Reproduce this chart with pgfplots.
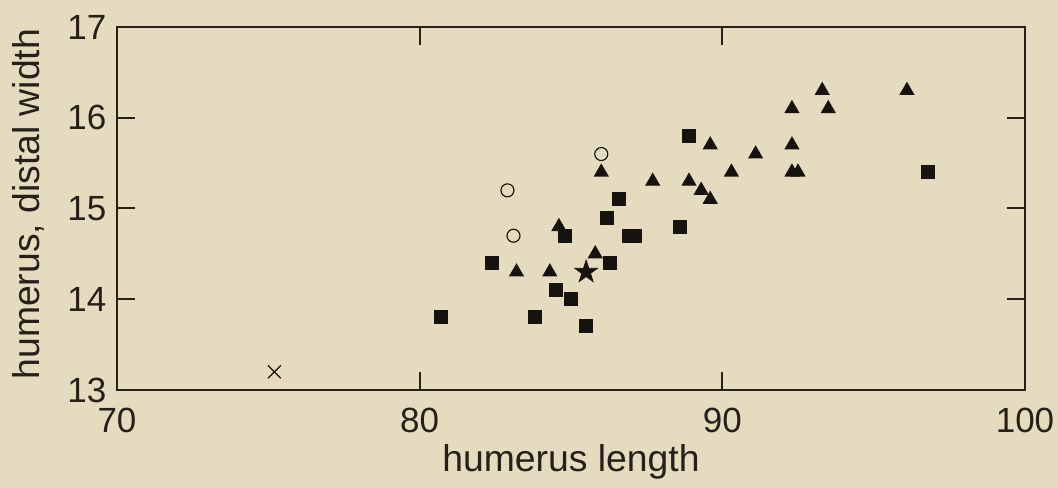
\documentclass[border=0pt]{standalone}
\usepackage{fontspec}
\setmainfont{Liberation Sans}
\usepackage{pgfplots}
\pgfplotsset{compat=1.18}
\definecolor{bgcol}{RGB}{229,220,192}
\definecolor{axcol}{RGB}{38,32,24}
\definecolor{mkcol}{RGB}{22,18,14}
\pgfdeclareplotmark{fstar}{%
  \pgfpathmoveto{\pgfpointpolar{90}{\pgfplotmarksize}}%
  \pgfpathlineto{\pgfpointpolar{126}{0.382\pgfplotmarksize}}%
  \pgfpathlineto{\pgfpointpolar{162}{\pgfplotmarksize}}%
  \pgfpathlineto{\pgfpointpolar{198}{0.382\pgfplotmarksize}}%
  \pgfpathlineto{\pgfpointpolar{234}{\pgfplotmarksize}}%
  \pgfpathlineto{\pgfpointpolar{270}{0.382\pgfplotmarksize}}%
  \pgfpathlineto{\pgfpointpolar{306}{\pgfplotmarksize}}%
  \pgfpathlineto{\pgfpointpolar{342}{0.382\pgfplotmarksize}}%
  \pgfpathlineto{\pgfpointpolar{18}{\pgfplotmarksize}}%
  \pgfpathlineto{\pgfpointpolar{54}{0.382\pgfplotmarksize}}%
  \pgfpathclose
  \pgfusepathqfillstroke}
\begin{document}
\begin{tikzpicture}
\fill[bgcol] (-35.1pt,-29.4pt) rectangle (282.3pt,117pt);
\path[use as bounding box] (-35.1pt,-29.4pt) rectangle (282.3pt,117pt);
\begin{axis}[
  scale only axis,
  width=272.4pt, height=108.9pt,
  xmin=70, xmax=100, ymin=13, ymax=17,
  xtick={70,80,90,100}, ytick={13,14,15,16,17},
  tick align=inside, major tick length=5.4pt,
  tick style={line width=0.6pt, color=axcol},
  axis line style={line width=0.6pt, color=axcol},
  minor tick num=0,
  /pgf/number format/assume math mode=true,
  ticklabel style={font=\fontsize{10.5}{12}\selectfont, color=axcol, inner sep=0pt},
  xticklabel style={yshift=-5.1pt},
  yticklabel style={xshift=-3pt},
  label style={font=\fontsize{11.2}{13}\selectfont, color=axcol},
  xlabel={humerus length},
  ylabel={humerus, distal width},
  xlabel style={at={(axis description cs:0.5,-0.225)}, anchor=base, inner sep=0pt},
  ylabel style={at={(axis description cs:-0.0793,0.512)}, anchor=south, inner sep=0pt, rotate=0},
  clip=false,
]
\addplot[only marks, mark=square*, mark size=1.9pt, color=mkcol] coordinates {
(80.7,13.8) (82.4,14.4) (83.8,13.8) (84.5,14.1) (84.8,14.7) (85.0,14.0)
(85.5,13.7) (86.2,14.9) (86.3,14.4) (86.6,15.1) (86.9,14.7) (87.1,14.7)
(88.6,14.8) (88.9,15.8) (96.8,15.4)
};
\addplot[only marks, mark=triangle*, mark size=2.25pt, color=mkcol] coordinates {
(83.2,14.3) (84.3,14.3) (84.6,14.8) (85.8,14.5) (86.0,15.4) (87.7,15.3)
(88.9,15.3) (89.3,15.2) (89.6,15.1) (89.6,15.7) (90.3,15.4) (91.1,15.6)
(92.3,15.4) (92.5,15.4) (92.3,15.7) (92.3,16.1) (93.5,16.1) (93.3,16.3)
(96.1,16.3)
};
\addplot[only marks, mark=o, mark size=1.95pt, color=mkcol, mark options={line width=0.35pt}] coordinates {
(82.9,15.2) (83.1,14.7) (86.0,15.6)
};
\addplot[only marks, mark=fstar, mark size=3.6pt, color=mkcol, mark options={line width=0.2pt}] coordinates {
(85.5,14.3)
};
\addplot[only marks, mark=x, mark size=2.75pt, color=mkcol, mark options={line width=0.35pt}] coordinates {
(75.2,13.2)
};
\end{axis}
\end{tikzpicture}
\end{document}
